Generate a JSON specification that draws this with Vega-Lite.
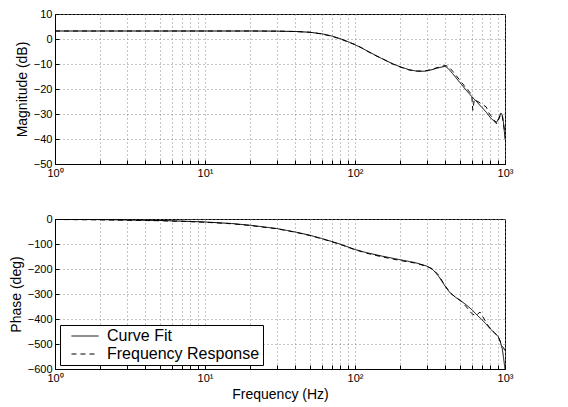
{
  "$schema": "https://vega.github.io/schema/vega-lite/v6.json",
  "padding": {"left": 8, "top": 7, "right": 5, "bottom": 2},
  "background": "white",
  "bounds": "flush",
  "spacing": 55,
  "config": {
    "font": "Liberation Sans",
    "view": {"stroke": "black", "strokeWidth": 1},
    "axis": {
      "labelFont": "Liberation Sans",
      "labelFontSize": 11,
      "labelColor": "black",
      "titleFont": "Liberation Sans",
      "titleFontSize": 14,
      "titleFontWeight": "normal",
      "titleColor": "black",
      "domainColor": "black",
      "tickColor": "black",
      "tickSize": -4,
      "labelPadding": 7,
      "gridColor": "#8a8a8a",
      "gridDash": [1, 3],
      "gridOpacity": 1,
      "labelFlush": false
    }
  },
  "datasets": {
    "mag": [
      {"f": 1, "series": "Curve Fit", "v": 3.2},
      {"f": 2, "series": "Curve Fit", "v": 3.2},
      {"f": 5, "series": "Curve Fit", "v": 3.2},
      {"f": 10, "series": "Curve Fit", "v": 3.2},
      {"f": 20, "series": "Curve Fit", "v": 3.2},
      {"f": 30, "series": "Curve Fit", "v": 3.15},
      {"f": 40, "series": "Curve Fit", "v": 3.0},
      {"f": 50, "series": "Curve Fit", "v": 2.7},
      {"f": 60, "series": "Curve Fit", "v": 2.1},
      {"f": 70, "series": "Curve Fit", "v": 1.2},
      {"f": 80, "series": "Curve Fit", "v": 0.1},
      {"f": 90, "series": "Curve Fit", "v": -1.1},
      {"f": 100, "series": "Curve Fit", "v": -2.3},
      {"f": 110, "series": "Curve Fit", "v": -3.5},
      {"f": 120, "series": "Curve Fit", "v": -4.7},
      {"f": 140, "series": "Curve Fit", "v": -6.8},
      {"f": 160, "series": "Curve Fit", "v": -8.6},
      {"f": 180, "series": "Curve Fit", "v": -10.0},
      {"f": 200, "series": "Curve Fit", "v": -11.1},
      {"f": 230, "series": "Curve Fit", "v": -12.3},
      {"f": 260, "series": "Curve Fit", "v": -12.9},
      {"f": 290, "series": "Curve Fit", "v": -12.9},
      {"f": 320, "series": "Curve Fit", "v": -12.4},
      {"f": 350, "series": "Curve Fit", "v": -11.7},
      {"f": 380, "series": "Curve Fit", "v": -11.2},
      {"f": 400, "series": "Curve Fit", "v": -10.9},
      {"f": 420, "series": "Curve Fit", "v": -11.9},
      {"f": 450, "series": "Curve Fit", "v": -14.0},
      {"f": 500, "series": "Curve Fit", "v": -17.4},
      {"f": 550, "series": "Curve Fit", "v": -20.4},
      {"f": 600, "series": "Curve Fit", "v": -23.0},
      {"f": 650, "series": "Curve Fit", "v": -25.2},
      {"f": 700, "series": "Curve Fit", "v": -27.3},
      {"f": 750, "series": "Curve Fit", "v": -29.3},
      {"f": 800, "series": "Curve Fit", "v": -31.5},
      {"f": 850, "series": "Curve Fit", "v": -33.0},
      {"f": 880, "series": "Curve Fit", "v": -33.3},
      {"f": 910, "series": "Curve Fit", "v": -31.5},
      {"f": 940, "series": "Curve Fit", "v": -29.6},
      {"f": 960, "series": "Curve Fit", "v": -30.5},
      {"f": 975, "series": "Curve Fit", "v": -33.0},
      {"f": 990, "series": "Curve Fit", "v": -37.0},
      {"f": 1000, "series": "Curve Fit", "v": -40.0},
      {"f": 1, "series": "Frequency Response", "v": 3.2},
      {"f": 2, "series": "Frequency Response", "v": 3.2},
      {"f": 5, "series": "Frequency Response", "v": 3.2},
      {"f": 10, "series": "Frequency Response", "v": 3.2},
      {"f": 20, "series": "Frequency Response", "v": 3.2},
      {"f": 30, "series": "Frequency Response", "v": 3.15},
      {"f": 40, "series": "Frequency Response", "v": 3.0},
      {"f": 50, "series": "Frequency Response", "v": 2.7},
      {"f": 60, "series": "Frequency Response", "v": 2.0},
      {"f": 70, "series": "Frequency Response", "v": 1.1},
      {"f": 80, "series": "Frequency Response", "v": 0.0},
      {"f": 90, "series": "Frequency Response", "v": -1.2},
      {"f": 100, "series": "Frequency Response", "v": -2.2},
      {"f": 110, "series": "Frequency Response", "v": -3.4},
      {"f": 120, "series": "Frequency Response", "v": -4.8},
      {"f": 140, "series": "Frequency Response", "v": -6.9},
      {"f": 160, "series": "Frequency Response", "v": -8.5},
      {"f": 180, "series": "Frequency Response", "v": -10.1},
      {"f": 200, "series": "Frequency Response", "v": -11.2},
      {"f": 230, "series": "Frequency Response", "v": -12.4},
      {"f": 260, "series": "Frequency Response", "v": -12.8},
      {"f": 290, "series": "Frequency Response", "v": -12.8},
      {"f": 320, "series": "Frequency Response", "v": -12.3},
      {"f": 350, "series": "Frequency Response", "v": -11.5},
      {"f": 380, "series": "Frequency Response", "v": -10.9},
      {"f": 400, "series": "Frequency Response", "v": -10.6},
      {"f": 420, "series": "Frequency Response", "v": -11.0},
      {"f": 450, "series": "Frequency Response", "v": -13.0},
      {"f": 500, "series": "Frequency Response", "v": -16.5},
      {"f": 550, "series": "Frequency Response", "v": -19.6},
      {"f": 600, "series": "Frequency Response", "v": -22.2},
      {"f": 610, "series": "Frequency Response", "v": -28.5},
      {"f": 625, "series": "Frequency Response", "v": -24.0},
      {"f": 650, "series": "Frequency Response", "v": -24.8},
      {"f": 700, "series": "Frequency Response", "v": -26.0},
      {"f": 750, "series": "Frequency Response", "v": -27.2},
      {"f": 780, "series": "Frequency Response", "v": -29.5},
      {"f": 800, "series": "Frequency Response", "v": -30.5},
      {"f": 850, "series": "Frequency Response", "v": -32.5},
      {"f": 880, "series": "Frequency Response", "v": -34.0},
      {"f": 910, "series": "Frequency Response", "v": -32.0},
      {"f": 940, "series": "Frequency Response", "v": -30.0},
      {"f": 960, "series": "Frequency Response", "v": -31.0},
      {"f": 980, "series": "Frequency Response", "v": -34.5},
      {"f": 1000, "series": "Frequency Response", "v": -38.0}
    ],
    "phase": [
      {"f": 1, "series": "Curve Fit", "v": -1},
      {"f": 2, "series": "Curve Fit", "v": -2.5},
      {"f": 3, "series": "Curve Fit", "v": -4},
      {"f": 5, "series": "Curve Fit", "v": -6},
      {"f": 7, "series": "Curve Fit", "v": -8.5},
      {"f": 10, "series": "Curve Fit", "v": -12},
      {"f": 15, "series": "Curve Fit", "v": -18},
      {"f": 20, "series": "Curve Fit", "v": -25},
      {"f": 30, "series": "Curve Fit", "v": -38},
      {"f": 40, "series": "Curve Fit", "v": -52},
      {"f": 50, "series": "Curve Fit", "v": -65},
      {"f": 60, "series": "Curve Fit", "v": -78},
      {"f": 70, "series": "Curve Fit", "v": -90},
      {"f": 80, "series": "Curve Fit", "v": -101},
      {"f": 100, "series": "Curve Fit", "v": -122},
      {"f": 120, "series": "Curve Fit", "v": -135},
      {"f": 150, "series": "Curve Fit", "v": -148},
      {"f": 200, "series": "Curve Fit", "v": -163},
      {"f": 250, "series": "Curve Fit", "v": -174},
      {"f": 300, "series": "Curve Fit", "v": -188},
      {"f": 330, "series": "Curve Fit", "v": -202},
      {"f": 360, "series": "Curve Fit", "v": -228},
      {"f": 400, "series": "Curve Fit", "v": -270},
      {"f": 430, "series": "Curve Fit", "v": -295},
      {"f": 470, "series": "Curve Fit", "v": -314},
      {"f": 500, "series": "Curve Fit", "v": -324},
      {"f": 550, "series": "Curve Fit", "v": -343},
      {"f": 600, "series": "Curve Fit", "v": -362},
      {"f": 650, "series": "Curve Fit", "v": -384},
      {"f": 700, "series": "Curve Fit", "v": -402},
      {"f": 750, "series": "Curve Fit", "v": -421},
      {"f": 800, "series": "Curve Fit", "v": -440},
      {"f": 850, "series": "Curve Fit", "v": -455},
      {"f": 900, "series": "Curve Fit", "v": -470},
      {"f": 930, "series": "Curve Fit", "v": -490},
      {"f": 960, "series": "Curve Fit", "v": -520},
      {"f": 980, "series": "Curve Fit", "v": -560},
      {"f": 1000, "series": "Curve Fit", "v": -600},
      {"f": 1, "series": "Frequency Response", "v": -2},
      {"f": 2, "series": "Frequency Response", "v": -3.5},
      {"f": 3, "series": "Frequency Response", "v": -5},
      {"f": 5, "series": "Frequency Response", "v": -7},
      {"f": 7, "series": "Frequency Response", "v": -9.5},
      {"f": 10, "series": "Frequency Response", "v": -13},
      {"f": 15, "series": "Frequency Response", "v": -19},
      {"f": 20, "series": "Frequency Response", "v": -26},
      {"f": 30, "series": "Frequency Response", "v": -39},
      {"f": 40, "series": "Frequency Response", "v": -53},
      {"f": 50, "series": "Frequency Response", "v": -66},
      {"f": 60, "series": "Frequency Response", "v": -79},
      {"f": 70, "series": "Frequency Response", "v": -91},
      {"f": 80, "series": "Frequency Response", "v": -102},
      {"f": 100, "series": "Frequency Response", "v": -123},
      {"f": 120, "series": "Frequency Response", "v": -137},
      {"f": 150, "series": "Frequency Response", "v": -151},
      {"f": 200, "series": "Frequency Response", "v": -166},
      {"f": 250, "series": "Frequency Response", "v": -176},
      {"f": 300, "series": "Frequency Response", "v": -189},
      {"f": 330, "series": "Frequency Response", "v": -200},
      {"f": 360, "series": "Frequency Response", "v": -224},
      {"f": 400, "series": "Frequency Response", "v": -268},
      {"f": 430, "series": "Frequency Response", "v": -294},
      {"f": 470, "series": "Frequency Response", "v": -314},
      {"f": 500, "series": "Frequency Response", "v": -325},
      {"f": 550, "series": "Frequency Response", "v": -350},
      {"f": 600, "series": "Frequency Response", "v": -378},
      {"f": 640, "series": "Frequency Response", "v": -388},
      {"f": 680, "series": "Frequency Response", "v": -372},
      {"f": 720, "series": "Frequency Response", "v": -396},
      {"f": 760, "series": "Frequency Response", "v": -420},
      {"f": 800, "series": "Frequency Response", "v": -440},
      {"f": 850, "series": "Frequency Response", "v": -455},
      {"f": 900, "series": "Frequency Response", "v": -468},
      {"f": 940, "series": "Frequency Response", "v": -498},
      {"f": 960, "series": "Frequency Response", "v": -510},
      {"f": 980, "series": "Frequency Response", "v": -515},
      {"f": 1000, "series": "Frequency Response", "v": -530}
    ]
  },
  "vconcat": [
    {
      "width": 450,
      "height": 150,
      "data": {"name": "mag"},
      "mark": {"type": "line", "color": "black", "strokeWidth": 1, "clip": true},
      "encoding": {
        "x": {
          "field": "f", "type": "quantitative",
          "scale": {"type": "log", "domain": [1, 1000], "nice": false},
          "axis": {
            "title": null,
            "values": [1,2,3,4,5,6,7,8,9,10,20,30,40,50,60,70,80,90,100,200,300,400,500,600,700,800,900,1000],
            "labelExpr": "datum.value == 1 ? '10⁰' : datum.value == 10 ? '10¹' : datum.value == 100 ? '10²' : datum.value == 1000 ? '10³' : ''"
          }
        },
        "y": {
          "field": "v", "type": "quantitative",
          "scale": {"domain": [-50, 10], "nice": false},
          "axis": {"title": "Magnitude (dB)", "values": [-50,-40,-30,-20,-10,0,10]}
        },
        "strokeDash": {
          "field": "series", "type": "nominal",
          "scale": {"domain": ["Curve Fit", "Frequency Response"], "range": [[1, 0], [5, 4]]},
          "legend": null
        }
      }
    },
    {
      "width": 450,
      "height": 150,
      "data": {"name": "phase"},
      "mark": {"type": "line", "color": "black", "strokeWidth": 1, "clip": true},
      "encoding": {
        "x": {
          "field": "f", "type": "quantitative",
          "scale": {"type": "log", "domain": [1, 1000], "nice": false},
          "axis": {
            "title": "Frequency (Hz)",
            "titlePadding": 4,
            "values": [1,2,3,4,5,6,7,8,9,10,20,30,40,50,60,70,80,90,100,200,300,400,500,600,700,800,900,1000],
            "labelExpr": "datum.value == 1 ? '10⁰' : datum.value == 10 ? '10¹' : datum.value == 100 ? '10²' : datum.value == 1000 ? '10³' : ''"
          }
        },
        "y": {
          "field": "v", "type": "quantitative",
          "scale": {"domain": [-600, 0], "nice": false},
          "axis": {"title": "Phase (deg)", "values": [-600,-500,-400,-300,-200,-100,0]}
        },
        "strokeDash": {
          "field": "series", "type": "nominal",
          "scale": {"domain": ["Curve Fit", "Frequency Response"], "range": [[1, 0], [5, 4]]},
          "legend": {
            "orient": "none",
            "legendX": 5,
            "legendY": 106,
            "title": null,
            "strokeColor": "black",
            "fillColor": "white",
            "padding": 3,
            "cornerRadius": 0,
            "labelFont": "Liberation Sans",
            "labelFontSize": 16,
            "labelColor": "black",
            "labelOffset": 14,
            "symbolType": "M-2.5,0H2.5",
            "symbolSize": 117,
            "symbolStrokeWidth": 1,
            "symbolStrokeColor": "black",
            "symbolOffset": 14,
            "rowPadding": 2
          }
        }
      }
    }
  ],
  "resolve": {"scale": {"strokeDash": "independent"}, "legend": {"strokeDash": "independent"}}
}
